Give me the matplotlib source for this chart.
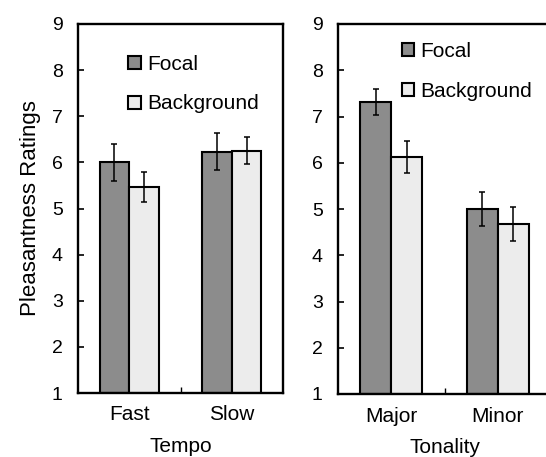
import matplotlib
matplotlib.use("Agg")
import matplotlib.pyplot as plt
import numpy as np
from matplotlib.patches import Patch

plt.rcParams['font.family'] = ['Liberation Sans', 'DejaVu Sans']

# data
tempo_labels = ['Fast', 'Slow']
tempo_focal = [6.00, 6.23]
tempo_focal_err = [0.40, 0.40]
tempo_background = [5.47, 6.25]
tempo_background_err = [0.32, 0.29]

tonality_labels = ['Major', 'Minor']
tonality_focal = [7.32, 5.00]
tonality_focal_err = [0.28, 0.37]
tonality_background = [6.12, 4.68]
tonality_background_err = [0.34, 0.37]

series_names = ['Focal', 'Background']
focal_color = '#8c8c8c'
background_color = '#ececec'


def draw_panel(ax, labels, focal, focal_err, background, background_err, xlabel, legend_anchor):
    x = np.arange(len(labels))
    w = 0.29
    bottom = 1
    ax.bar(x - w / 2, np.array(focal) - bottom, w, bottom=bottom, color=focal_color,
           edgecolor='black', linewidth=1.5, zorder=2)
    ax.bar(x + w / 2, np.array(background) - bottom, w, bottom=bottom, color=background_color,
           edgecolor='black', linewidth=1.5, zorder=2)
    ax.errorbar(x - w / 2, focal, yerr=focal_err, fmt='none', ecolor='black',
                elinewidth=1.1, capsize=2.5, capthick=1.1, zorder=3)
    ax.errorbar(x + w / 2, background, yerr=background_err, fmt='none', ecolor='black',
                elinewidth=1.1, capsize=2.5, capthick=1.1, zorder=3)

    ax.set_xlim(-0.5, 1.5)
    ax.set_ylim(1, 9)
    ax.set_yticks(range(1, 10))
    ax.set_xticks(x)
    ax.set_xticklabels(labels, fontsize=15)
    ax.set_xticks([0.5], minor=True)
    ax.tick_params(axis='x', which='major', length=0, pad=9)
    ax.tick_params(axis='x', which='minor', direction='in', length=4, width=1)
    ax.tick_params(axis='y', direction='in', length=4, width=1.2, labelsize=14, pad=11)
    ax.set_xlabel(xlabel, fontsize=15, labelpad=9)
    for s in ax.spines.values():
        s.set_linewidth(1.7)

    handles = [Patch(facecolor=focal_color, edgecolor='black', linewidth=1.5),
               Patch(facecolor=background_color, edgecolor='black', linewidth=1.5)]
    ax.legend(handles, series_names, loc='upper left', bbox_to_anchor=legend_anchor,
              frameon=False, fontsize=15, handlelength=0.6, handleheight=0.6,
              handletextpad=0.3, labelspacing=1.0, borderpad=0, borderaxespad=0)


fig = plt.figure(figsize=(5.46, 4.57), dpi=100)
ax1 = fig.add_axes([78 / 546, 64 / 457, 205 / 546, 369 / 457])
ax2 = fig.add_axes([338 / 546, 63 / 457, 213 / 546, 370 / 457])

draw_panel(ax1, tempo_labels, tempo_focal, tempo_focal_err, tempo_background,
           tempo_background_err, 'Tempo', (0.245, 0.917))
draw_panel(ax2, tonality_labels, tonality_focal, tonality_focal_err, tonality_background,
           tonality_background_err, 'Tonality', (0.30, 0.952))

ax1.set_ylabel('Pleasantness Ratings', fontsize=16, labelpad=8)

fig.savefig('out.png', dpi=100)
